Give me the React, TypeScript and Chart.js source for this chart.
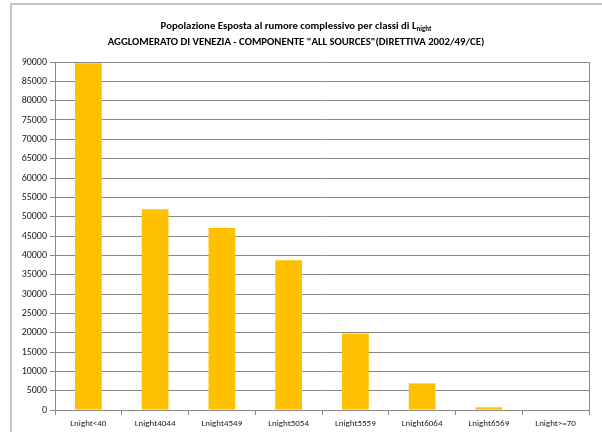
import React, { useEffect, useRef } from "react";
import { Chart, registerables } from "chart.js";

Chart.register(...registerables);

const categories = [
  "Lnight<40",
  "Lnight4044",
  "Lnight4549",
  "Lnight5054",
  "Lnight5559",
  "Lnight6064",
  "Lnight6569",
  "Lnight>=70",
];
const population = [89700, 51900, 47100, 38700, 19800, 6900, 700, 0];
const yMax = 90000;
const yStep = 5000;
const titleLine1 = "Popolazione Esposta al rumore complessivo per classi di L";
const titleSub = "night";
const titleLine2 = 'AGGLOMERATO DI VENEZIA - COMPONENTE "ALL SOURCES"(DIRETTIVA 2002/49/CE)';

const FONT = "Carlito, Lato, 'Liberation Sans', sans-serif";
const GRID = "#8a8a8a";

const titlePlugin = {
  id: "excelTitle",
  afterDraw(chart: any) {
    const ctx = chart.ctx as CanvasRenderingContext2D;
    const cx = 296;
    ctx.save();
    ctx.fillStyle = "#000";
    ctx.textBaseline = "middle";
    ctx.textAlign = "left";
    const mainFont = `bold 10.75px ${FONT}`;
    const subFont = `bold 7px ${FONT}`;
    ctx.font = mainFont;
    const w1 = ctx.measureText(titleLine1).width;
    ctx.font = subFont;
    const ws = ctx.measureText(titleSub).width;
    const x1 = cx - (w1 + ws) / 2;
    ctx.font = mainFont;
    ctx.fillText(titleLine1, x1, 26);
    ctx.font = subFont;
    ctx.fillText(titleSub, x1 + w1, 29.5);
    ctx.font = mainFont;
    const w2 = ctx.measureText(titleLine2).width;
    ctx.fillText(titleLine2, cx - w2 / 2, 42.5);
    // right border of plot area
    const a = chart.chartArea;
    ctx.strokeStyle = GRID;
    ctx.lineWidth = 1;
    ctx.beginPath();
    ctx.moveTo(Math.round(a.right) + 0.5, a.top);
    ctx.lineTo(Math.round(a.right) + 0.5, a.bottom);
    ctx.stroke();
    ctx.restore();
  },
};

export default function App() {
  const ref = useRef<HTMLCanvasElement | null>(null);
  useEffect(() => {
    if (!ref.current) return;
    const chart = new Chart(ref.current, {
      type: "bar",
      data: {
        labels: categories,
        datasets: [
          {
            data: population,
            backgroundColor: "#FFC000",
            borderWidth: 0,
            categoryPercentage: 1,
            barPercentage: 0.4,
          },
        ],
      },
      options: {
        animation: false,
        responsive: false,
        devicePixelRatio: 1,
        layout: { padding: { top: 62, right: 13, left: 0, bottom: 0 } },
        plugins: {
          legend: { display: false },
          title: { display: false },
          tooltip: { enabled: false },
        },
        scales: {
          x: {
            grid: {
              offset: true,
              drawOnChartArea: false,
              drawTicks: true,
              tickLength: 5,
              color: GRID,
            },
            border: { display: true, color: GRID },
            ticks: {
              color: "#1a1a1a",
              font: { family: FONT, size: 9 },
              maxRotation: 0,
              autoSkip: false,
              padding: 3,
            },
            afterFit: (s: any) => {
              s.height = 22;
            },
          },
          y: {
            min: 0,
            max: yMax,
            grid: { color: GRID, tickLength: 5, drawTicks: true },
            border: { display: true, color: GRID },
            ticks: {
              stepSize: yStep,
              color: "#1a1a1a",
              font: { family: FONT, size: 10 },
              padding: 3,
              callback: (v: any) => String(v),
            },
            afterFit: (s: any) => {
              s.width = 55;
            },
          },
        },
      },
      plugins: [titlePlugin],
    });
    return () => chart.destroy();
  }, []);
  return (
    <div
      style={{
        position: "fixed",
        left: 0,
        top: 0,
        width: 602,
        height: 432,
        background: "#fff",
        overflow: "hidden",
      }}
    >
      <div
        style={{
          position: "absolute",
          left: 10,
          top: 3,
          right: 0,
          bottom: 0,
          borderLeft: "2px solid #c4c4c4",
          borderTop: "2px solid #c4c4c4",
        }}
      />
      <canvas
        ref={ref}
        width={602}
        height={432}
        style={{ position: "absolute", left: 0, top: 0 }}
      />
    </div>
  );
}
